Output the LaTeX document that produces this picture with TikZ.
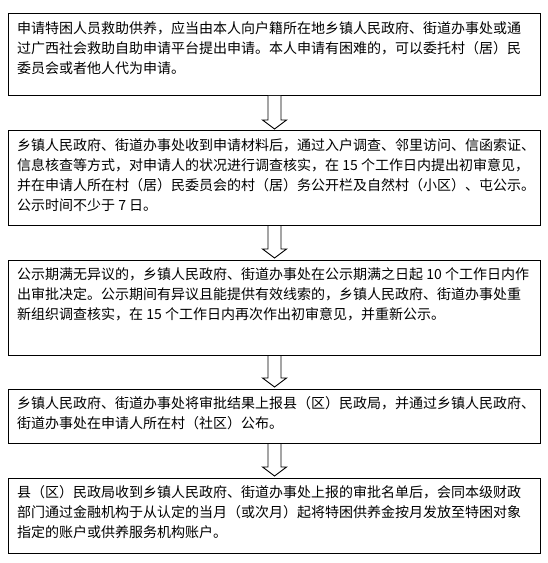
\documentclass[tikz,border=0pt]{standalone}
\usepackage{fontspec}
\newfontfamily\cjk{Noto Sans CJK SC}
\usetikzlibrary{calc}
\tikzset{
  box/.style={draw, line width=1bp, anchor=north west, inner sep=0pt, minimum width=532bp},
  txt/.style={anchor=north west, inner sep=0pt, align=left, font={\cjk\fontsize{14bp}{20bp}\selectfont}},
  blk/.style={draw, line width=0.9bp, fill=white, line join=miter}
}
\newcommand{\blockarrow}[2]{%
  \path[blk] let \p1=(#1.south), \p2=(#2.north) in
    (274.5bp-6.5bp,\y1) -- (274.5bp-6.5bp,\y2+10.5bp) -- (274.5bp-12bp,\y2+10.5bp)
    -- (274.5bp,\y2+1.5bp) -- (274.5bp+12bp,\y2+10.5bp) -- (274.5bp+6.5bp,\y2+10.5bp)
    -- (274.5bp+6.5bp,\y1);%
}
\begin{document}
\begin{tikzpicture}[x=1bp,y=-1bp]
\useasboundingbox (0,0) rectangle (548,563);
\node[box, minimum height=82bp] (b1) at (8,13) {};
\node[box, minimum height=94.5bp] (b2) at (8,130.5) {};
\node[box, minimum height=95.5bp] (b3) at (8,259.5) {};
\node[box, minimum height=54.5bp] (b4) at (8,388.5) {};
\node[box, minimum height=75.5bp] (b5) at (8,477.5) {};

\node[txt] (t1) at (17,21) {申请特困人员救助供养，应当由本人向户籍所在地乡镇人民政府、街道办事处或通\\过广西社会救助自助申请平台提出申请。本人申请有困难的，可以委托村（居）民\\委员会或者他人代为申请。};
\node[txt] (t2) at (17,138.5) {乡镇人民政府、街道办事处收到申请材料后，通过入户调查、邻里访问、信函索证、\\信息核查等方式，对申请人的状况进行调查核实，在 15 个工作日内提出初审意见，\\并在申请人所在村（居）民委员会的村（居）务公开栏及自然村（小区）、屯公示。\\公示时间不少于 7 日。};
\node[txt] (t3) at (17,267.5) {公示期满无异议的，乡镇人民政府、街道办事处在公示期满之日起 10 个工作日内作\\出审批决定。公示期间有异议且能提供有效线索的，乡镇人民政府、街道办事处重\\新组织调查核实，在 15 个工作日内再次作出初审意见，并重新公示。};
\node[txt] (t4) at (17,396.5) {乡镇人民政府、街道办事处将审批结果上报县（区）民政局，并通过乡镇人民政府、\\街道办事处在申请人所在村（社区）公布。};
\node[txt] (t5) at (17,485.5) {县（区）民政局收到乡镇人民政府、街道办事处上报的审批名单后，会同本级财政\\部门通过金融机构于从认定的当月（或次月）起将特困供养金按月发放至特困对象\\指定的账户或供养服务机构账户。};

\blockarrow{b1}{b2}
\blockarrow{b2}{b3}
\blockarrow{b3}{b4}
\blockarrow{b4}{b5}
\end{tikzpicture}
\end{document}
